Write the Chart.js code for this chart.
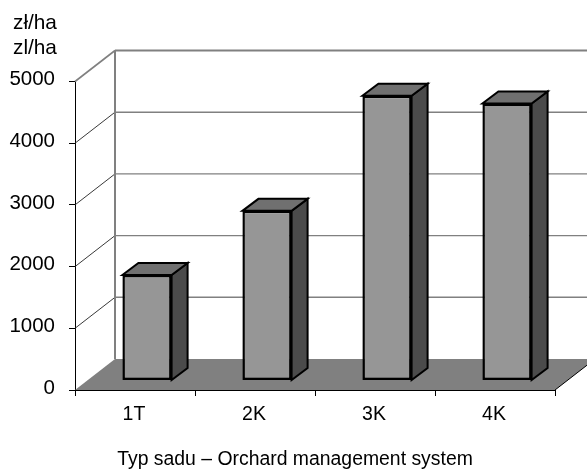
<!DOCTYPE html>
<html>
<head>
<meta charset="utf-8">
<style>
  html, body { margin: 0; padding: 0; background: #fff; }
  canvas { display: block; }
</style>
<script src="https://cdn.jsdelivr.net/npm/chart.js@4/dist/chart.umd.min.js"></script>
</head>
<body>
<canvas id="myChart" width="587" height="470"></canvas>
<script>
const categories = ['1T', '2K', '3K', '4K'];
const values = [1710, 2750, 4615, 4490];
const unitLines = ['zł/ha', 'zl/ha'];
const xTitle = 'Typ sadu – Orchard management system';

const fontFamily = '"Liberation Sans", Arial, sans-serif';

// excel style 3d box
const wallDx = 40, wallDy = -31;
const barDx = 12, barDy = -9.5;
const sideDx = 16, sideDy = -12;

function poly(ctx, pts, fill, stroke, lw) {
    ctx.beginPath();
    pts.forEach((p, i) => i ? ctx.lineTo(p[0], p[1]) : ctx.moveTo(p[0], p[1]));
    ctx.closePath();
    if (fill) { ctx.fillStyle = fill; ctx.fill(); }
    if (stroke) { ctx.strokeStyle = stroke; ctx.lineWidth = lw; ctx.stroke(); }
}

function line(ctx, x1, y1, x2, y2, color, lw) {
    ctx.beginPath();
    ctx.moveTo(x1, y1);
    ctx.lineTo(x2, y2);
    ctx.strokeStyle = color;
    ctx.lineWidth = lw;
    ctx.stroke();
}

const box3d = {
    id: 'box3d',
    beforeDatasetsDraw(chart) {
        const ctx = chart.ctx;
        const a = chart.chartArea;
        const y = chart.scales.y;
        const base = y.getPixelForValue(0);
        const backX = a.left + wallDx;

        ctx.save();
        //floor
        poly(ctx, [[a.left, base], [backX, base + wallDy], [a.right + wallDx, base + wallDy], [a.right, base]], '#808080');
        line(ctx, a.right, base, a.right + wallDx, base + wallDy, '#000', 1);

        //grid lines on the wall + diagonal side
        y.ticks.forEach(t => {
            if (t.value === 0) return;
            const py = y.getPixelForValue(t.value);
            const top = t.value === 5000;
            line(ctx, a.left, py, backX, py + wallDy, top ? '#808080' : '#222', top ? 1.6 : 0.9);
            line(ctx, backX, py + wallDy, a.right + wallDx, py + wallDy, '#808080', top ? 2 : 1.4);
        });
        line(ctx, backX, y.getPixelForValue(5000) + wallDy, backX, base + wallDy, '#808080', 2);

        //top and side of the bars
        chart.getDatasetMeta(0).data.forEach(b => {
            const l = b.x - b.width / 2 + barDx;
            const r = b.x + b.width / 2 + barDx;
            const t = b.y + barDy;
            const bt = b.base + barDy;
            poly(ctx, [[r, t], [r + sideDx, t + sideDy], [r + sideDx, bt + sideDy], [r, bt]], '#4b4b4b', '#000', 2);
            poly(ctx, [[l, t], [l + sideDx, t + sideDy], [r + sideDx, t + sideDy], [r, t]], '#707070', '#000', 2);
        });

        //front faces are drawn by the library, moved into the depth
        ctx.translate(barDx, barDy);
    },
    afterDatasetsDraw(chart) {
        chart.ctx.restore();
    },
    afterDraw(chart) {
        //axis title sits in the middle of the page, unit sits over the tick labels
        const ctx = chart.ctx;
        ctx.save();
        ctx.fillStyle = '#000';
        ctx.textBaseline = 'middle';
        ctx.textAlign = 'center';
        ctx.font = '19.4px ' + fontFamily;
        ctx.fillText(xTitle, 295, 460);
        ctx.textAlign = 'left';
        ctx.font = '20.8px ' + fontFamily;
        unitLines.forEach((u, i) => ctx.fillText(u, 13, 23 + i * 25));
        ctx.restore();
    }
};

const config = {
    type: 'bar',
    data: {
        labels: categories,
        datasets: [{
            data: values,
            backgroundColor: '#969696',
            borderColor: '#000',
            borderWidth: 2.5,
            borderSkipped: false,
            barPercentage: 0.41,
            categoryPercentage: 1,
            clip: false
        }]
    },
    options: {
        responsive: false,
        animation: false,
        layout: { padding: { left: 0, right: 32, top: 81.5, bottom: 0 } },
        plugins: {
            legend: { display: false },
            tooltip: { enabled: false }
        },
        scales: {
            y: {
                min: 0,
                max: 5000,
                afterFit(s) { s.width = 75; },
                ticks: {
                    stepSize: 1000,
                    color: '#000',
                    padding: 14,
                    labelOffset: -2,
                    callback: v => String(v),
                    font: { family: fontFamily, size: 20.5 }
                },
                grid: { drawOnChartArea: false, color: '#000', tickLength: 6 },
                border: { color: '#000', width: 1 }
            },
            x: {
                afterFit(s) { s.height = 80; },
                ticks: {
                    color: '#000',
                    padding: 7,
                    labelOffset: -1,
                    font: { family: fontFamily, size: 19.5 }
                },
                grid: { drawOnChartArea: false, color: '#000', tickLength: 6, offset: true },
                border: { color: '#000', width: 1 }
            }
        }
    },
    plugins: [box3d]
};

const myChart = new Chart(document.getElementById('myChart'), config);
</script>
</body>
</html>
